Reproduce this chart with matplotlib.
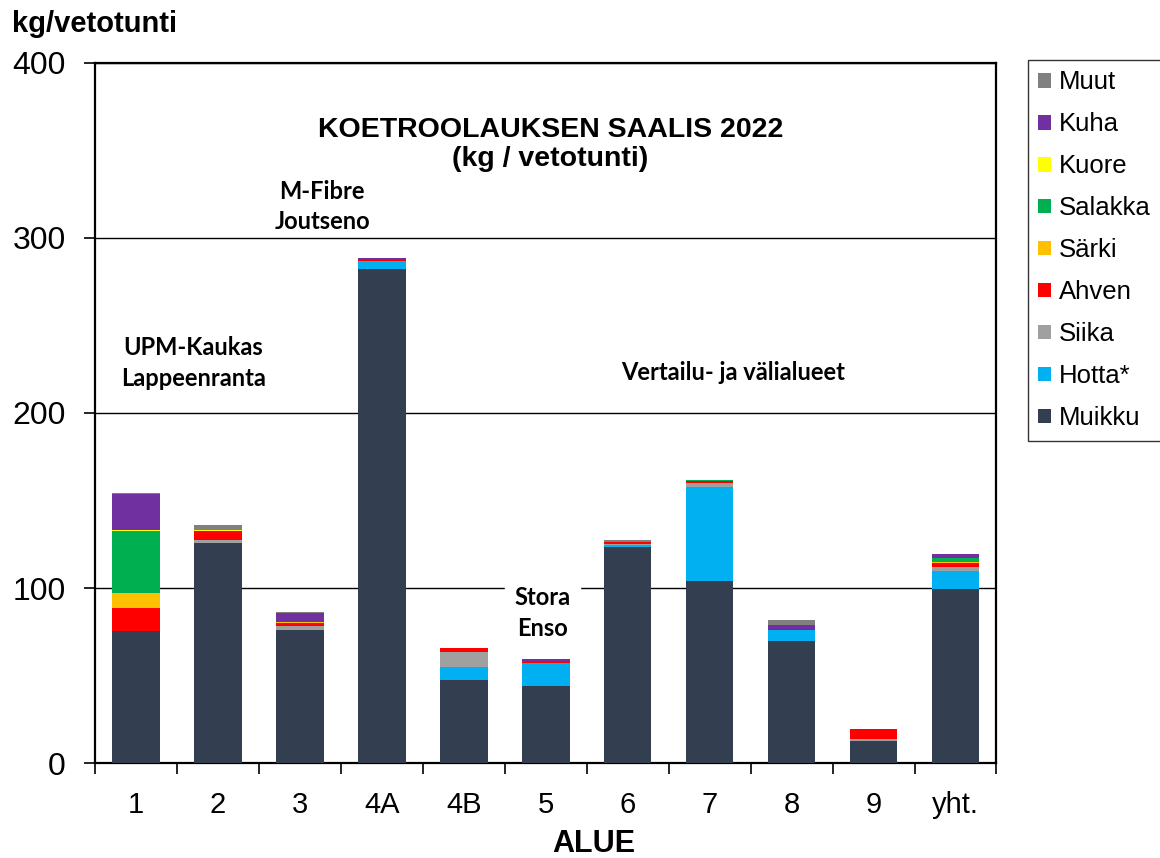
import matplotlib
matplotlib.use("Agg")
import matplotlib.pyplot as plt
import numpy as np

# Data (kg / vetotunti)
areas = ["1", "2", "3", "4A", "4B", "5", "6", "7", "8", "9", "yht."]
muikku  = [75.4, 126.0, 76.0, 282.3, 47.4, 43.8, 123.6, 103.8, 69.5, 12.4, 99.4]
hotta   = [0.0,  0.0,   0.0,  4.4,   7.4,  13.5, 1.0,   53.7,  6.3,  0.0,  10.3]
siika   = [0.0,  1.3,   2.5,  0.0,   8.7,  0.0,  0.8,   2.7,   0.0,  1.3,  2.3]
ahven   = [13.2, 5.1,   1.3,  1.1,   2.5,  0.6,  0.8,   0.8,   1.0,  5.5,  2.3]
sarki   = [8.5,  0.3,   0.8,  0.0,   0.0,  0.0,  0.0,   0.0,   0.0,  0.0,  0.8]
salakka = [35.5, 0.0,   0.0,  0.0,   0.0,  0.0,  0.0,   0.8,   0.0,  0.0,  1.9]
kuore   = [0.8,  0.3,   0.0,  0.0,   0.0,  0.0,  0.0,   0.0,   0.0,  0.0,  0.3]
kuha    = [20.6, 0.0,   5.3,  0.6,   0.0,  1.3,  0.0,   0.0,   2.1,  0.0,  2.3]
muut    = [0.4,  3.0,   0.4,  0.0,   0.0,  0.5,  1.2,   0.0,   3.0,  0.0,  0.0]

series = [
    ("Muikku", muikku, "#333f50"),
    ("Hotta*", hotta, "#00b0f0"),
    ("Siika", siika, "#a0a0a0"),
    ("Ahven", ahven, "#ff0000"),
    ("Särki", sarki, "#ffc000"),
    ("Salakka", salakka, "#00b050"),
    ("Kuore", kuore, "#ffff00"),
    ("Kuha", kuha, "#7030a0"),
    ("Muut", muut, "#808080"),
]

plt.rcParams["font.family"] = ["Liberation Sans", "DejaVu Sans"]
fig = plt.figure(figsize=(11.6, 8.58), dpi=100)
ax = fig.add_axes([0.082, 0.1107, 0.777, 0.8159])

x = np.arange(len(areas))
bottom = np.zeros(len(areas))
handles = []
for name, vals, col in series:
    vals = np.array(vals)
    b = ax.bar(x, vals, 0.58, bottom=bottom, color=col, edgecolor="none",
               label=name, zorder=3)
    handles.append(b)
    bottom += vals

ax.set_xlim(-0.5, len(areas) - 0.5)
ax.set_ylim(0, 400)
ax.set_yticks([0, 100, 200, 300, 400])
ax.set_xticks(x)
ax.set_xticklabels(areas)
ax.set_xticks(np.arange(-0.5, len(areas)), minor=True)
ax.tick_params(axis="x", which="major", length=0, pad=20, labelsize=21)
ax.tick_params(axis="x", which="minor", length=8, width=1.2, direction="out")
ax.tick_params(axis="y", length=8, width=1.2, labelsize=23, pad=13)
ax.grid(axis="y", color="black", linewidth=1.0, zorder=0)
for s in ax.spines.values():
    s.set_linewidth(1.6)

ax.set_xlabel("ALUE", fontsize=22, fontweight="bold")
ax.xaxis.set_label_coords(0.553, -0.094)
fig.text(0.01, 0.972, "kg/vetotunti", fontsize=21, fontweight="bold",
         ha="left", va="center")

ax.text(0.505, 0.884, "KOETROOLAUKSEN SAALIS 2022\n(kg / vetotunti)",
        transform=ax.transAxes, ha="center", va="center", fontsize=20.5,
        fontweight="bold", linespacing=1.15)

note = dict(fontsize=17, fontweight="bold", family=["Lato", "DejaVu Sans"],
            ha="center", va="center", linespacing=1.4, zorder=4)
ax.text(0.7, 228.6, "UPM-Kaukas\nLappeenranta", **note)
ax.text(2.27, 318, "M-Fibre\nJoutseno", **note)
ax.text(4.96, 85.7, "Stora\nEnso", backgroundcolor="white", **note)
ax.text(7.29, 223, "Vertailu- ja välialueet", **note)

leg = fig.legend(handles[::-1], [s[0] for s in series][::-1],
                 loc="upper left", bbox_to_anchor=(0.886, 0.930),
                 fontsize=18.5, frameon=True, fancybox=False, edgecolor="black",
                 handlelength=0.5, handleheight=0.5, handletextpad=0.3,
                 labelspacing=0.7, borderpad=0.4, borderaxespad=0)
leg.get_frame().set_linewidth(1.0)

fig.savefig("out.png", dpi=100)
